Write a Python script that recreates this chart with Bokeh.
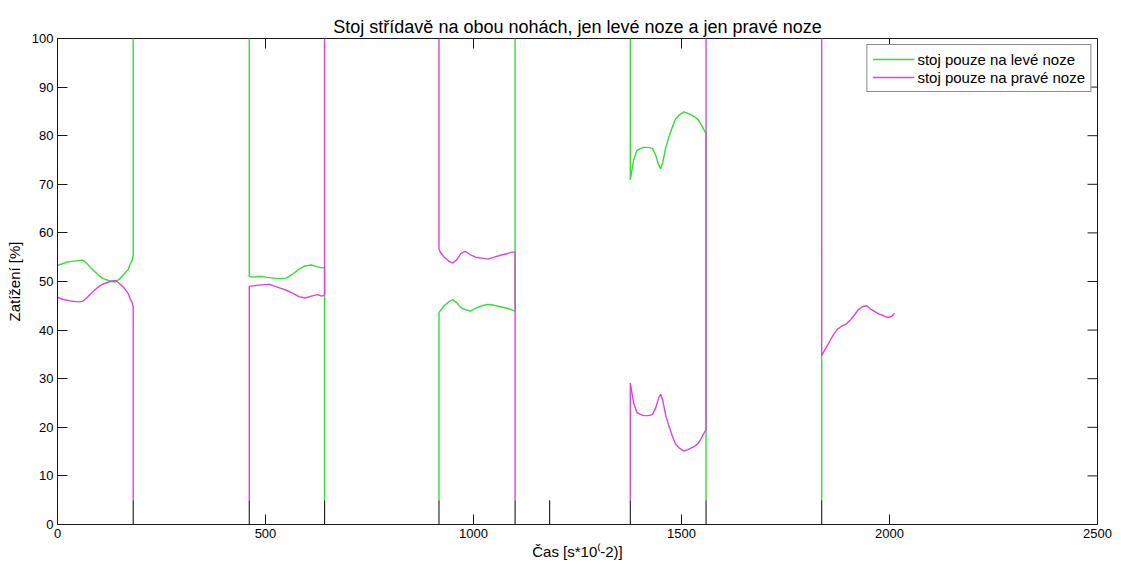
import numpy as np
from bokeh.plotting import figure
from bokeh.models import Range1d, FixedTicker, Legend, LegendItem
from bokeh.embed import file_html
from bokeh.resources import INLINE

# ---- data -------------------------------------------------------------
title_text = "Stoj střídavě na obou nohách, jen levé noze a jen pravé noze"
x_label = "Čas [s*10⁽-2)]"
y_label = "Zatížení [%]"
legend_labels = ["stoj pouze na levé noze", "stoj pouze na pravé noze"]
x_ticks = [0, 500, 1000, 1500, 2000, 2500]
y_ticks = [0, 10, 20, 30, 40, 50, 60, 70, 80, 90, 100]
x_min, x_max = 0, 2500
y_min, y_max = 0, 100

OFF_TOP = 105.0   # value above the visible range (leg carries everything)
OFF_LOW = 5.0     # lower end of coloured transition lines

seg1_x = [0, 10, 20, 30, 40, 50, 60, 70, 80, 90, 100, 110, 120, 130, 140, 150, 160, 170, 175, 180, 182]
seg1_green = [53.3, 53.6, 53.9, 54.1, 54.2, 54.3, 54.4, 53.8, 52.8, 52.0, 51.2, 50.6, 50.3, 50.0, 49.9, 50.6, 51.5, 52.5, 53.6, 54.5, 55.4]
seg1_magenta = [46.8, 46.4, 46.2, 46.0, 45.9, 45.8, 45.9, 46.6, 47.5, 48.3, 49.0, 49.5, 49.8, 50.1, 50.2, 49.5, 48.7, 47.5, 46.4, 45.5, 44.8]

seg2_x = [461, 470, 490, 510, 530, 550, 565, 580, 595, 610, 625, 635, 642]
seg2_green = [51.0, 50.9, 51.0, 50.8, 50.6, 50.7, 51.5, 52.5, 53.2, 53.4, 53.0, 52.8, 52.9]
seg2_magenta = [49.0, 49.1, 49.3, 49.4, 48.8, 48.2, 47.6, 46.9, 46.6, 47.0, 47.3, 47.0, 47.2]

seg3_x = [917, 922, 930, 940, 950, 960, 970, 980, 993, 1005, 1020, 1035, 1050, 1065, 1080, 1090, 1100]
seg3_green = [43.6, 44.2, 45.0, 45.8, 46.3, 45.6, 44.6, 44.2, 43.9, 44.5, 45.0, 45.3, 45.1, 44.8, 44.5, 44.2, 43.9]
seg3_magenta = [56.6, 55.8, 55.0, 54.2, 53.8, 54.5, 55.8, 56.2, 55.5, 55.0, 54.8, 54.6, 55.0, 55.4, 55.7, 56.0, 56.1]

seg4_x = [1377, 1380, 1385, 1393, 1400, 1409, 1420, 1430, 1438, 1445, 1450, 1455, 1462, 1470, 1478, 1486, 1495, 1506, 1515, 1530, 1540, 1546, 1552, 1559]
seg4_green = [70.9, 72.5, 75.0, 77.0, 77.3, 77.6, 77.6, 77.4, 76.0, 74.0, 73.2, 74.5, 77.5, 79.8, 81.8, 83.5, 84.3, 84.9, 84.6, 84.0, 83.3, 82.5, 81.5, 80.5]
seg4_magenta = [29.1, 27.5, 25.0, 23.0, 22.7, 22.4, 22.4, 22.6, 24.0, 26.0, 26.8, 25.5, 22.5, 20.2, 18.2, 16.5, 15.7, 15.1, 15.4, 16.0, 16.7, 17.5, 18.5, 19.5]

seg5_x = [1837, 1845, 1855, 1865, 1875, 1885, 1895, 1905, 1915, 1925, 1935, 1945, 1955, 1965, 1975, 1985, 1995, 2005, 2012]
seg5_magenta = [34.8, 36.0, 37.5, 39.0, 40.2, 40.8, 41.2, 42.0, 43.0, 44.2, 44.8, 45.0, 44.3, 43.8, 43.3, 43.0, 42.6, 42.8, 43.5]

black_x = [182, 461, 642, 917, 1100, 1183, 1377, 1559, 1837]
black_low = 0.0
black_high = 5.0

# ---- assemble series (NaN separates pieces) ---------------------------
nan = float("nan")

def piece(xs, ys, start=None, end=None):
    px, py = [], []
    if start is not None:
        px.append(xs[0]); py.append(start)
    px += list(xs); py += list(ys)
    if end is not None:
        px.append(xs[-1]); py.append(end)
    return px, py

def join(pieces):
    X, Y = [], []
    for i, (px, py) in enumerate(pieces):
        if i:
            X.append(nan); Y.append(nan)
        X += px; Y += py
    return X, Y

gx, gy = join([
    piece(seg1_x, seg1_green, end=OFF_TOP),
    piece(seg2_x, seg2_green, start=OFF_TOP, end=OFF_LOW),
    piece(seg3_x, seg3_green, start=OFF_LOW, end=OFF_TOP),
    piece(seg4_x, seg4_green, start=OFF_TOP, end=OFF_LOW),
    piece(seg5_x[:1], seg5_magenta[:1], start=OFF_LOW),
])
mx, my = join([
    piece(seg1_x, seg1_magenta, end=OFF_LOW),
    piece(seg2_x, seg2_magenta, start=OFF_LOW, end=OFF_TOP),
    piece(seg3_x, seg3_magenta, start=OFF_TOP, end=OFF_LOW),
    piece(seg4_x, seg4_magenta, start=OFF_LOW, end=OFF_TOP),
    piece(seg5_x, seg5_magenta, start=OFF_TOP),
])

# ---- figure -----------------------------------------------------------
FONT = "Liberation Sans"
AX = "#1a1a1a"
GREEN = "#33dd33"
MAGENTA = "#dd44dd"
TICK_LEN = 10
LW = 1.4

p = figure(width=1113, height=562, output_backend="svg", toolbar_location=None,
           x_range=Range1d(x_min, x_max), y_range=Range1d(y_min, y_max),
           min_border_left=57, min_border_right=16, min_border_top=38, min_border_bottom=36,
           title=title_text)
p.title.align = "center"
p.title.text_font = FONT
p.title.text_font_size = "18px"
p.title.text_font_style = "normal"
p.title.text_color = "black"
p.title.standoff = 4
p.grid.visible = False
p.outline_line_color = AX
p.background_fill_color = "white"
p.border_fill_color = "white"

def style_axis(ax, ticks):
    ax.ticker = FixedTicker(ticks=ticks)
    ax.axis_line_color = AX
    ax.major_tick_line_color = AX
    ax.major_tick_in = TICK_LEN
    ax.major_tick_out = 0
    ax.minor_tick_line_color = None
    ax.major_label_text_font = FONT
    ax.major_label_text_color = "black"
    ax.major_label_text_font_size = "13px"
    ax.major_label_standoff = 4
    ax.axis_label_text_font = FONT
    ax.axis_label_text_font_style = "normal"
    ax.axis_label_text_color = "black"
    ax.axis_label_text_font_size = "15px"

style_axis(p.xaxis[0], x_ticks)
style_axis(p.yaxis[0], y_ticks)
p.xaxis[0].axis_label = x_label
p.xaxis[0].axis_label_standoff = 2
p.yaxis[0].axis_label = y_label
p.yaxis[0].axis_label_standoff = 6

# box ticks on the top and right edges (pointing inward)
p.ray(x=x_ticks, y=[y_max] * len(x_ticks), length=TICK_LEN, length_units="screen",
      angle=-np.pi / 2, line_color=AX, line_width=1)
p.ray(x=[x_max] * len(y_ticks), y=y_ticks, length=TICK_LEN, length_units="screen",
      angle=np.pi, line_color=AX, line_width=1)

rg = p.line(gx, gy, line_color=GREEN, line_width=LW)
rm = p.line(mx, my, line_color=MAGENTA, line_width=LW)
p.segment(x0=black_x, y0=[black_low] * len(black_x), x1=black_x, y1=[black_high] * len(black_x),
          line_color=AX, line_width=1.1)

legend = Legend(items=[LegendItem(label=legend_labels[0], renderers=[rg]),
                       LegendItem(label=legend_labels[1], renderers=[rm])],
                location="top_right")
legend.margin = 6
legend.padding = 5
legend.spacing = 0
legend.glyph_width = 42
legend.glyph_height = 18
legend.label_height = 18
legend.label_standoff = 3
legend.label_text_font = FONT
legend.label_text_font_size = "15px"
legend.label_text_color = "black"
legend.border_line_color = AX
legend.background_fill_alpha = 1.0
p.add_layout(legend, "center")

open("out.html", "w").write(file_html(p, INLINE))
